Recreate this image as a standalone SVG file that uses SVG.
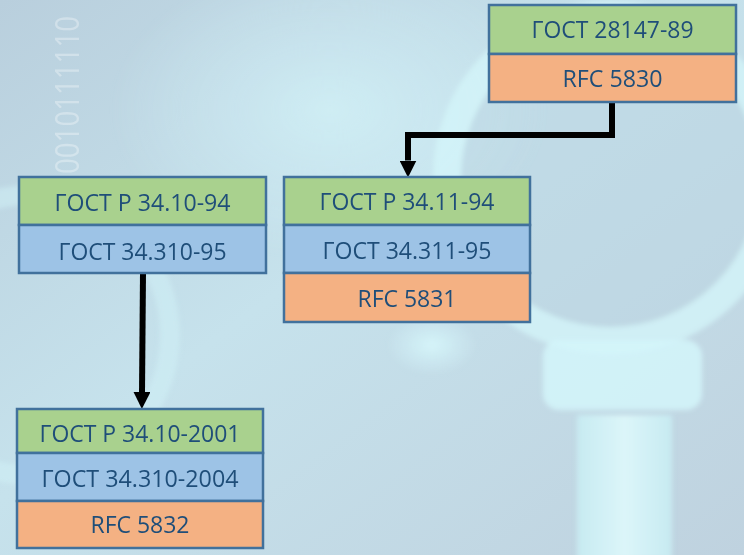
<svg xmlns="http://www.w3.org/2000/svg" width="744" height="555" viewBox="0 0 744 555">
  <defs>
    <linearGradient id="bg" x1="0" y1="0" x2="1" y2="1">
      <stop offset="0" stop-color="#b9cfdd"/>
      <stop offset="0.45" stop-color="#c6e2ec"/>
      <stop offset="1" stop-color="#bfd2df"/>
    </linearGradient>
    <radialGradient id="glow" cx="0.5" cy="0.5" r="0.5">
      <stop offset="0" stop-color="#d6f6fb" stop-opacity="0.9"/>
      <stop offset="1" stop-color="#d6f6fb" stop-opacity="0"/>
    </radialGradient>
    <linearGradient id="shaft" x1="0" y1="0" x2="1" y2="0">
      <stop offset="0" stop-color="#c8eef4"/>
      <stop offset="0.5" stop-color="#e0fbfd"/>
      <stop offset="1" stop-color="#c8eef4"/>
    </linearGradient>
    <filter id="soft" x="-10%" y="-10%" width="120%" height="120%">
      <feGaussianBlur stdDeviation="2.5"/>
    </filter>
    <marker id="arrow" markerUnits="userSpaceOnUse" viewBox="0 -8.5 17 17" refX="0" refY="0" markerWidth="17" markerHeight="17" orient="auto">
      <path d="M0,-8.5 L17,0 L0,8.5 Z" fill="#000"/>
    </marker>
    <style>
      .frame { stroke: #41719c; stroke-width: 2.5; }
      .green { fill: #a9d18e; }
      .blue { fill: #9dc3e6; }
      .orange { fill: #f4b183; }
      .label { font-family: "Open Sans", "Noto Sans", "Liberation Sans", sans-serif; font-size: 23px; fill: #1f4e79; text-anchor: middle; }
      .link { fill: none; stroke: #000; stroke-width: 6; marker-end: url(#arrow); }
    </style>
  </defs>

  <!-- backdrop: soft magnifier scene -->
  <g id="backdrop">
    <rect width="744" height="555" fill="url(#bg)"/>
    <g filter="url(#soft)">
      <ellipse cx="330" cy="110" rx="220" ry="150" fill="url(#glow)" opacity="0.7"/>
      <circle cx="30" cy="335" r="140" fill="none" stroke="#d0f1f6" stroke-width="20" opacity="0.55"/>
      <circle cx="610" cy="178" r="150" fill="#bcd6e2" opacity="0.55"/>
      <circle cx="610" cy="178" r="163" fill="none" stroke="#d4f5f9" stroke-width="28" opacity="0.75"/>
      <rect x="543" y="340" width="159" height="70" rx="16" fill="#d4f6fa" opacity="0.85"/>
      <rect x="577" y="415" width="95" height="145" fill="url(#shaft)" opacity="0.85"/>
      <ellipse cx="432" cy="345" rx="45" ry="30" fill="url(#glow)"/>
    </g>
    <!-- binary digits running up the left edge -->
    <text x="79" y="174" transform="rotate(-90 79 174)" font-family="'Open Sans', 'Liberation Sans', sans-serif" font-size="33" fill="#ffffff" opacity="0.32" textLength="158" lengthAdjust="spacingAndGlyphs">0010111110</text>
  </g>

  <!-- connectors -->
  <g id="connectors">
    <path class="link" d="M612 102 V135 H408 V160.5"/>
    <path class="link" d="M143 273 L142 392"/>
  </g>

  <!-- ГОСТ 28147-89 -->
  <g id="node-28147">
    <rect class="green frame" x="489" y="5" width="247" height="49"/>
    <rect class="orange frame" x="489" y="54" width="247" height="48"/>
    <text class="label" x="612.5" y="37.5" textLength="162" lengthAdjust="spacingAndGlyphs">ГОСТ 28147-89</text>
    <text class="label" x="612.5" y="87" textLength="100" lengthAdjust="spacingAndGlyphs">RFC 5830</text>
  </g>

  <!-- ГОСТ Р 34.11-94 -->
  <g id="node-3411">
    <rect class="green frame" x="284" y="177" width="246" height="48"/>
    <rect class="blue frame" x="284" y="225" width="246" height="48"/>
    <rect class="orange frame" x="284" y="273" width="246" height="49"/>
    <text class="label" x="407" y="210" textLength="175" lengthAdjust="spacingAndGlyphs">ГОСТ Р 34.11-94</text>
    <text class="label" x="407" y="259" textLength="169" lengthAdjust="spacingAndGlyphs">ГОСТ 34.311-95</text>
    <text class="label" x="407" y="307" textLength="99" lengthAdjust="spacingAndGlyphs">RFC 5831</text>
  </g>

  <!-- ГОСТ Р 34.10-94 -->
  <g id="node-3410-94">
    <rect class="green frame" x="19" y="177" width="247" height="48"/>
    <rect class="blue frame" x="19" y="225" width="247" height="48"/>
    <text class="label" x="142.5" y="211" textLength="176" lengthAdjust="spacingAndGlyphs">ГОСТ Р 34.10-94</text>
    <text class="label" x="142.5" y="260" textLength="168" lengthAdjust="spacingAndGlyphs">ГОСТ 34.310-95</text>
  </g>

  <!-- ГОСТ Р 34.10-2001 -->
  <g id="node-3410-2001">
    <rect class="green frame" x="17" y="409" width="246" height="44"/>
    <rect class="blue frame" x="17" y="453" width="246" height="48"/>
    <rect class="orange frame" x="17" y="501" width="246" height="47"/>
    <text class="label" x="140" y="442" textLength="201" lengthAdjust="spacingAndGlyphs">ГОСТ Р 34.10-2001</text>
    <text class="label" x="140" y="487" textLength="197" lengthAdjust="spacingAndGlyphs">ГОСТ 34.310-2004</text>
    <text class="label" x="140" y="533" textLength="99" lengthAdjust="spacingAndGlyphs">RFC 5832</text>
  </g>
</svg>
